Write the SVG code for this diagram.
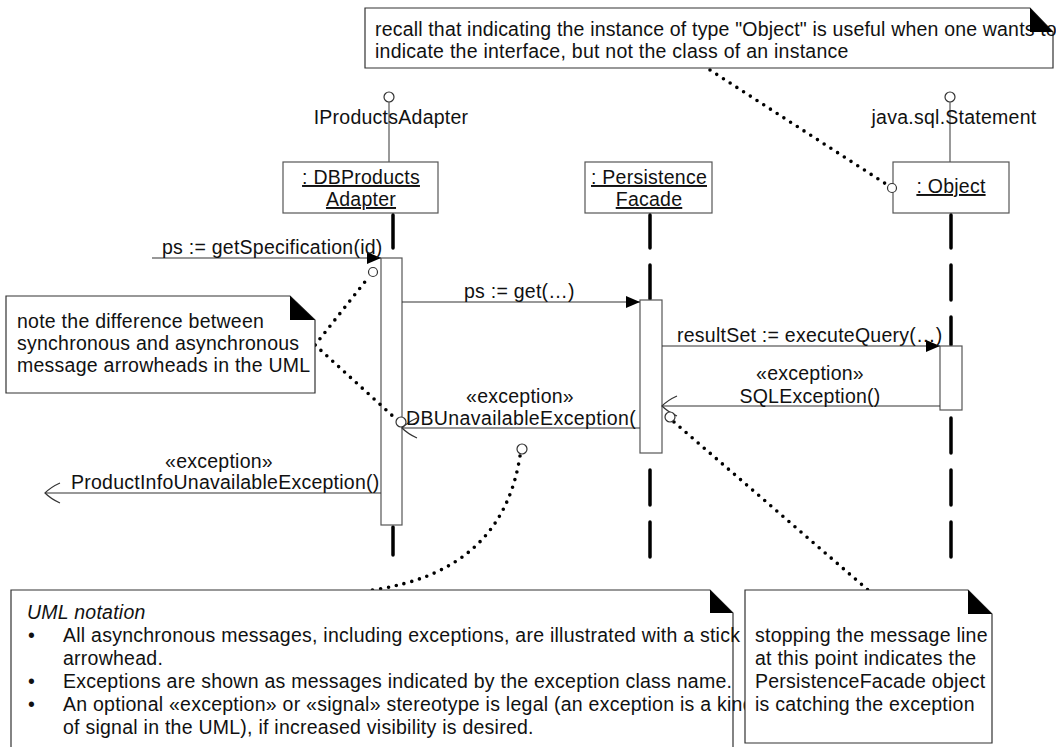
<svg xmlns="http://www.w3.org/2000/svg" width="1056" height="747" viewBox="0 0 1056 747">
<style>
.t{font-family:"Liberation Sans",Arial,sans-serif;font-size:19.5px;letter-spacing:0.25px;fill:#111}
.c{text-anchor:middle}
.u{text-decoration:underline}
.i{font-style:italic}
.n{letter-spacing:0.18px}
.box{fill:#fff;stroke:#555;stroke-width:1.2}
.note{fill:#fff;stroke:#333;stroke-width:1.2}
.ear{fill:#000}
.life{stroke:#000;stroke-width:3.5;stroke-linecap:round}
.msg{stroke:#333;stroke-width:1.2;fill:none}
.dot{stroke:#000;stroke-width:3.6;stroke-linecap:round;stroke-dasharray:0 8;fill:none}
.circ{fill:#fff;stroke:#333;stroke-width:1.2}
</style>
<defs>
<marker id="filled" markerUnits="userSpaceOnUse" markerWidth="16" markerHeight="14" refX="14" refY="7" orient="auto"><path d="M0,1 L14,7 L0,13 Z" fill="#000"/></marker>
<marker id="stick" markerUnits="userSpaceOnUse" markerWidth="20" markerHeight="24" refX="17" refY="12" orient="auto"><path d="M2,2 Q11,6 17,12 Q11,18 2,22" fill="none" stroke="#333" stroke-width="1.2"/></marker>
</defs>

<g id="DBProductsAdapter">
<circle class="circ" cx="389" cy="97" r="5"/>
<line x1="389" y1="102" x2="389" y2="162" stroke="#555" stroke-width="1.2"/>
<text class="t c" x="391" y="124">IProductsAdapter</text>
<rect class="box" x="283" y="162" width="155" height="51"/>
<text class="t c u" x="361" y="184">: DBProducts</text>
<text class="t c u" x="361" y="206">Adapter</text>
<line class="life" x1="393" y1="215" x2="393" y2="248"/>
<line class="life" x1="393" y1="527" x2="393" y2="555"/>
<rect class="box" x="381" y="258" width="21" height="267"/>
</g>

<g id="PersistenceFacade">
<rect class="box" x="585" y="162" width="127" height="51"/>
<text class="t c u" x="649" y="184">: Persistence</text>
<text class="t c u" x="649" y="206">Facade</text>
<line class="life" x1="650" y1="215" x2="650" y2="248"/>
<line class="life" x1="650" y1="265" x2="650" y2="299"/>
<line class="life" x1="650" y1="470" x2="650" y2="505"/>
<line class="life" x1="650" y1="522" x2="650" y2="557"/>
<rect class="box" x="640" y="300" width="22" height="153"/>
</g>

<g id="Object">
<circle class="circ" cx="950" cy="97" r="5"/>
<line x1="950" y1="102" x2="950" y2="162" stroke="#555" stroke-width="1.2"/>
<text class="t c" x="954" y="124">java.sql.Statement</text>
<rect class="box" x="893" y="162" width="116" height="51"/>
<text class="t c u" x="951" y="193">: Object</text>
<line class="life" x1="951" y1="215" x2="951" y2="248"/>
<line class="life" x1="951" y1="265" x2="951" y2="300"/>
<line class="life" x1="951" y1="317" x2="951" y2="345"/>
<line class="life" x1="951" y1="418" x2="951" y2="453"/>
<line class="life" x1="951" y1="470" x2="951" y2="505"/>
<line class="life" x1="951" y1="522" x2="951" y2="557"/>
<rect class="box" x="940" y="346" width="22" height="64"/>
</g>

<g id="connectors">
<line class="msg" x1="152" y1="258" x2="381" y2="258" marker-end="url(#filled)"/>
<text class="t" x="162" y="254">ps := getSpecification(id)</text>
<line class="msg" x1="402" y1="302" x2="640" y2="302" marker-end="url(#filled)"/>
<text class="t" x="464" y="298">ps := get(…)</text>
<line class="msg" x1="662" y1="346" x2="940" y2="346" marker-end="url(#filled)"/>
<text class="t" x="677" y="342">resultSet := executeQuery(…)</text>
<line class="msg" x1="940" y1="406" x2="662" y2="406" marker-end="url(#stick)"/>
<text class="t c" x="810" y="380">«exception»</text>
<text class="t c" x="810" y="403">SQLException()</text>
<line class="msg" x1="640" y1="428" x2="402" y2="428" marker-end="url(#stick)"/>
<text class="t c" x="520" y="403">«exception»</text>
<text class="t" x="406" y="425" textLength="230" lengthAdjust="spacing">DBUnavailableException(</text>
<line class="msg" x1="381" y1="493" x2="45" y2="493" marker-end="url(#stick)"/>
<text class="t c" x="219" y="468">«exception»</text>
<text class="t" x="71" y="489">ProductInfoUnavailableException()</text>

<path class="dot" d="M710,70 L886,184"/>
<circle class="circ" cx="892" cy="188" r="4.5"/>
<path class="dot" d="M315,345 L368,278"/>
<circle class="circ" cx="373" cy="272" r="4.5"/>
<path class="dot" d="M315,345 L396,419"/>
<circle class="circ" cx="401" cy="422" r="5"/>
<path class="dot" d="M520,456 Q502,572 372,590"/>
<circle class="circ" cx="522" cy="449" r="5"/>
<path class="dot" d="M674,422 L868,590"/>
<circle class="circ" cx="670" cy="417" r="5"/>
</g>

<g id="note-object">
<path class="note" d="M365,8 H1030 L1053,32 V68 H365 Z"/>
<text class="t n" x="375" y="36">recall that indicating the instance of type "Object" is useful when one wants to</text>
<text class="t" x="375" y="58">indicate the interface, but not the class of an instance</text>
<path class="ear" d="M1030,8 V32 H1053 Z"/>
</g>

<g id="note-arrowheads">
<path class="note" d="M6,296 H290 L315,320 V393 H6 Z"/>
<path class="ear" d="M290,296 V320 H315 Z"/>
<text class="t" x="17" y="328">note the difference between</text>
<text class="t" x="17" y="350">synchronous and asynchronous</text>
<text class="t" x="17" y="372">message arrowheads in the UML</text>
</g>

<g id="note-uml">
<path class="note" d="M11,590 H710 L733,613 V760 H11 Z"/>
<path class="ear" d="M710,590 V613 H733 Z"/>
<text class="t i" x="27" y="619">UML notation</text>
<text class="t" x="28" y="642">•</text>
<text class="t" x="63" y="642">All asynchronous messages, including exceptions, are illustrated with a stick</text>
<text class="t" x="63" y="665">arrowhead.</text>
<text class="t" x="28" y="688">•</text>
<text class="t" x="63" y="688">Exceptions are shown as messages indicated by the exception class name.</text>
<text class="t" x="28" y="711">•</text>
<text class="t" x="63" y="711">An optional «exception» or «signal» stereotype is legal (an exception is a kind</text>
<text class="t" x="63" y="734">of signal in the UML), if increased visibility is desired.</text>
</g>

<g id="note-catching">
<path class="note" d="M745,590 H968 L992,614 V743 H745 Z"/>
<path class="ear" d="M968,590 V614 H992 Z"/>
<text class="t" x="755" y="642">stopping the message line</text>
<text class="t" x="755" y="665">at this point indicates the</text>
<text class="t" x="755" y="688">PersistenceFacade object</text>
<text class="t" x="755" y="711">is catching the exception</text>
</g>
</svg>
